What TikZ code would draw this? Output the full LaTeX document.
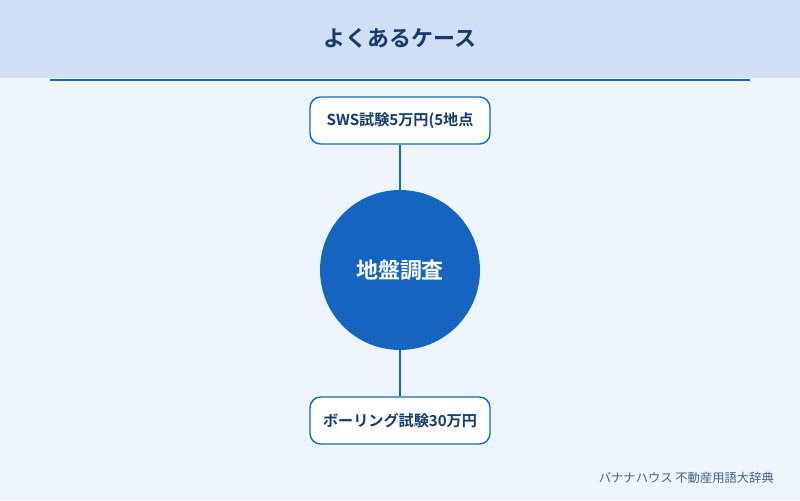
\documentclass[tikz,border=0pt]{standalone}
\usepackage{fontspec}
\setmainfont{Noto Sans CJK JP}
\newfontfamily\jpbold{Noto Sans CJK JP Bold}
\usetikzlibrary{positioning}
\definecolor{bgpale}{HTML}{EEF5FF}
\definecolor{headband}{HTML}{D0DFF5}
\definecolor{mainblue}{HTML}{1565C0}
\definecolor{navytext}{HTML}{163A6B}
\tikzset{
  casebox/.style={rectangle, rounded corners=6pt, draw=mainblue, line width=0.8pt, fill=white,
    minimum width=3.6cm, minimum height=0.94cm, inner sep=1pt, text=navytext,
    font=\jpbold\fontsize{8.6}{10}\selectfont},
  hub/.style={circle, fill=mainblue, minimum size=3.2cm, text=white,
    font=\jpbold\fontsize{12.5}{14}\selectfont},
  link/.style={draw=mainblue, line width=0.8pt}
}
\begin{document}
\begin{tikzpicture}[x=0.02cm,y=-0.02cm]
\fill[bgpale] (0,0) rectangle (800,500);
\useasboundingbox (0,0) rectangle (800,500);
\fill[headband] (0,0) rectangle (800,78);
\draw[mainblue, line width=1pt] (50,80) -- (750,80);
\node[text=navytext, font=\jpbold\fontsize{12.5}{14}\selectfont] (title) at (400,38) {よくあるケース};
% hub and cases
\node[hub] (survey) at (400,270) {地盤調査};
\node[casebox] (sws) at (400,120.5) {SWS試験5万円(5地点};
\node[casebox] (boring) at (400,420.5) {ボーリング試験30万円};
\draw[link] (sws) -- (survey);
\draw[link] (survey) -- (boring);
\node[anchor=east, text=navytext!80, font=\fontsize{7}{8}\selectfont] (credit) at (780,478) {バナナハウス 不動産用語大辞典};
\end{tikzpicture}
\end{document}
